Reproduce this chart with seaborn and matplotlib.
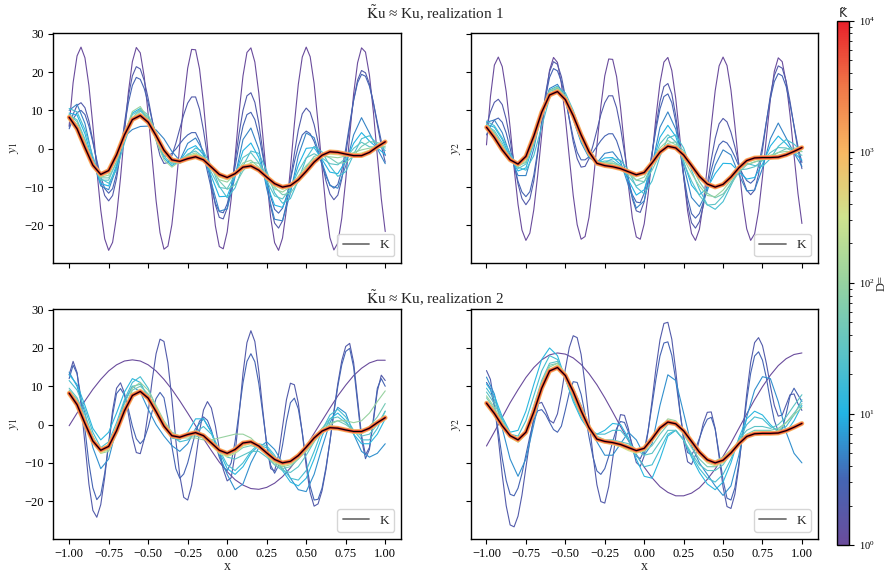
import numpy as np
import seaborn as sns
import matplotlib.pyplot as plt
from matplotlib.colors import LinearSegmentedColormap, LogNorm
from matplotlib.cm import ScalarMappable
from matplotlib.lines import Line2D

# sample grids (coarse for smooth curves, fine for fast oscillating ones)
x_coarse = np.linspace(-1, 1, 41)
x_fine = np.linspace(-1, 1, 81)

# target K (black line)
k_y1 = [8.2, 5.2, 0.3, -4.3, -6.7, -5.7, -1.6, 3.6, 7.6, 8.65, 6.9, 3.4, -0.4, -2.9, -3.3, -2.6, -2.1, -2.9, -4.8, -6.7,
        -7.5, -6.5, -4.8, -4.5, -5.6, -7.4, -9.1, -10.0, -9.6, -8.1, -5.9, -3.5, -1.7, -0.8, -0.95, -1.4, -1.8, -1.8, -0.95, 0.5, 1.8]
k_y2 = [5.6, 2.9, -0.3, -2.9, -4.0, -2.0, 3.3, 9.5, 14.0, 14.9, 12.8, 8.6, 3.6, -0.8, -3.8, -4.4, -4.7, -5.2, -6.0, -6.8,
        -6.2, -3.7, -0.9, 0.65, 0.2, -1.65, -4.4, -7.2, -9.2, -10.0, -9.3, -7.4, -5.0, -3.1, -2.4, -2.3, -2.3, -2.2, -1.6, -0.7, 0.3]

# D values of the approximations
dims_r1 = [1, 2, 3, 5, 10, 20, 30, 50, 100, 300]
dims_r2 = [1, 2, 3, 6, 12, 20, 30, 50, 100, 300]
dims_band = [1000, 3000, 10000]

# realization 1, y1
r1_y1_d1 = [6.0, 17.2, 24.2, 26.5, 23.7, 16.5, 6.1, -5.5, -16.0, -23.5, -26.5, -24.4, -17.7, -7.6, 4.0, 14.8, 22.7, 26.4, 25.0, 18.8,
            9.0, -2.4, -13.5, -21.9, -26.2, -25.4, -19.8, -10.4, 0.9, 12.2, 21.0, 25.9, 25.8, 20.8, 11.8, 0.6, -10.7, -20.1, -25.5, -26.1,
            -21.7, -13.2, -2.1, 9.3, 19.0, 25.1, 26.3, 22.6, 14.5, 3.6, -7.9, -17.9, -24.5, -26.5, -23.3, -15.8, -5.2, 6.4, 16.8, 23.9,
            26.5, 24.0, 17.0, 6.7, -4.9, -15.5, -23.2, -26.4, -24.6, -18.1, -8.1, 3.4, 14.3, 22.4, 26.3, 25.2, 19.2, 9.6, -1.9, -13.0, -21.6]
r1_y1_d2 = [5.7, 9.0, 11.3, 12.0, 10.7, 7.2, 2.1, -3.5, -8.5, -12.2, -13.6, -12.2, -7.8, -1.1, 6.6, 13.7, 19.0, 21.4, 20.8, 17.8,
            13.1, 7.6, 2.3, -1.8, -3.85, -3.6, -1.8, 1.4, 5.2, 8.9, 11.9, 13.5, 13.5, 10.3, 4.8, -2.0, -8.9, -14.6, -17.9, -18.3,
            -15.5, -10.2, -3.2, 3.9, 10.0, 13.8, 14.6, 12.1, 6.7, -0.6, -8.3, -15.0, -19.4, -20.7, -18.8, -14.4, -8.1, -1.3, 4.9, 9.1,
            10.6, 9.5, 6.3, 1.7, -3.6, -8.4, -11.8, -13.3, -12.1, -7.9, -1.6, 5.7, 12.7, 17.9, 20.4, 19.8, 16.9, 12.0, 6.3, 0.8, -3.5]
r1_y1_d3 = [5.2, 7.7, 9.4, 10.0, 8.9, 5.9, 1.7, -3.0, -7.3, -10.4, -11.6, -10.4, -6.5, -0.8, 5.8, 12.0, 16.5, 18.6, 18.1, 15.7,
            11.9, 7.4, 3.1, -0.2, -1.9, -1.9, -1.2, -0.1, 1.3, 2.6, 3.6, 4.2, 4.2, 2.0, -1.5, -6.0, -10.5, -14.2, -16.4, -16.7,
            -14.4, -10.2, -4.7, 1.0, 5.9, 8.9, 9.5, 7.6, 3.6, -1.8, -7.5, -12.5, -15.8, -16.8, -15.5, -12.5, -8.2, -3.5, 0.7, 3.6,
            4.6, 3.9, 1.9, -1.0, -4.2, -7.2, -9.4, -10.3, -9.3, -5.6, 0.0, 6.5, 12.6, 17.2, 19.4, 18.9, 16.3, 12.0, 6.9, 2.0, -1.8]
r1_y1_d5 = [10.0, 11.6, 6.6, -2.7, -9.7, -10.7, -4.9, 3.2, 5.0, 5.8, 5.9, 4.9, 2.6, -0.7, -3.1, 1.4, 2.8, -0.7, -8.9, -16.3,
            -15.7, -7.3, 2.4, 5.4, -0.1, -10.4, -18.4, -18.8, -11.6, -1.8, 4.1, 2.9, -3.6, -9.6, -10.3, -4.5, 3.6, 8.1, 4.1, 0.0, -3.9]
r1_y1_d10 = [9.3, 8.8, 3.9, -3.4, -9.1, -9.7, -4.3, 3.9, 9.3, 10.5, 7.6, 2.4, -2.4, -4.4, -3.2, -0.2, 0.8, -1.6, -7.2, -12.5,
             -12.4, -7.0, -0.5, 1.5, -2.3, -9.2, -14.7, -15.3, -10.8, -4.3, 0.1, 0.3, -2.8, -6.1, -6.5, -3.2, 1.4, 4.2, 2.0, 0.2, -1.5]
r1_y1_d20 = [10.5, 9.6, 5.0, -2.0, -7.8, -9.0, -5.5, 1.5, 7.5, 9.8, 8.4, 4.2, -0.8, -3.6, -3.8, -1.8, 0.2, -0.8, -4.5, -9.8,
             -12.8, -10.2, -4.5, -0.6, -1.2, -5.8, -11.5, -14.2, -13.0, -8.2, -2.5, 0.6, -0.8, -4.5, -7.2, -6.0, -1.5, 2.6, 3.4, 1.2, -0.5]
r1_y1_d30 = [8.9, 7.5, 2.5, -3.7, -8.2, -8.2, -3.3, 3.8, 8.9, 10.1, 7.4, 2.6, -1.9, -4.0, -3.2, -1.4, -0.6, -2.2, -6.2, -10.1,
             -10.4, -6.8, -2.3, -1.0, -3.7, -8.4, -12.3, -13.1, -10.3, -5.9, -2.4, -1.3, -2.4, -3.9, -4.2, -2.5, 0.1, 1.7, 0.5, 0.4, 0.2]
r1_y1_d50 = [9.0, 7.0, 2.2, -3.5, -7.6, -7.6, -3.6, 2.8, 8.0, 10.4, 8.8, 4.4, -0.2, -3.0, -3.8, -2.8, -1.6, -2.0, -4.6, -8.4,
             -10.6, -9.4, -5.8, -3.5, -3.8, -6.6, -10.0, -12.0, -11.6, -8.6, -4.8, -2.0, -1.4, -2.4, -3.8, -3.6, -1.8, 0.6, 1.9, 1.6, 1.0]
r1_y1_d100 = [8.5, 6.3, 1.4, -4.0, -7.4, -6.9, -2.4, 4.0, 9.7, 11.0, 7.8, 2.1, -2.9, -4.8, -3.3, -1.8, -1.1, -2.5, -5.4, -8.1,
              -8.7, -6.6, -3.7, -3.0, -4.8, -7.8, -10.5, -11.3, -9.9, -7.2, -4.4, -2.5, -2.0, -2.1, -2.35, -1.9, -1.0, -0.3, 0.15, 0.4, 0.6]
r1_y1_d300 = [8.4, 5.8, 0.9, -4.1, -7.1, -6.4, -2.1, 3.7, 8.2, 9.3, 7.1, 3.0, -1.1, -3.4, -3.3, -2.0, -1.4, -2.6, -5.1, -7.4,
              -8.1, -6.6, -4.3, -3.8, -5.2, -7.6, -9.7, -10.6, -9.7, -7.7, -5.2, -3.1, -1.8, -1.4, -1.6, -1.6, -1.4, -1.1, -0.4, 0.5, 1.2]

# realization 1, y2
r1_y2_d1 = [1.0, 13.5, 21.8, 23.9, 21.4, 14.9, 5.5, -5.0, -14.5, -21.2, -23.9, -22.0, -15.9, -6.8, 3.6, 13.3, 20.5, 23.8, 22.5, 16.9,
            8.1, -2.2, -12.2, -19.8, -23.6, -22.9, -17.9, -9.4, 0.8, 11.0, 19.0, 23.4, 23.3, 18.8, 10.7, 0.5, -9.7, -18.1, -23.0, -23.6,
            -19.6, -11.9, -1.9, 8.4, 17.1, 22.6, 23.8, 20.4, 13.1, 3.3, -7.1, -16.2, -22.1, -23.9, -21.0, -14.2, -4.7, 5.8, 15.1, 21.6,
            23.9, 21.7, 15.3, 6.0, -4.4, -14.0, -20.9, -23.9, -22.2, -16.3, -7.3, 3.0, 12.9, 20.2, 23.7, 22.7, 17.3, 8.7, -1.7, -11.7, -19.5]
r1_y2_d2 = [5.9, 9.6, 12.1, 12.9, 11.5, 7.7, 2.3, -3.7, -9.2, -13.0, -14.6, -13.1, -8.4, -1.2, 6.9, 14.5, 20.1, 22.7, 22.0, 18.8,
            13.6, 7.6, 1.8, -2.6, -4.8, -4.6, -2.6, 0.8, 4.8, 8.9, 12.0, 13.8, 13.8, 10.7, 5.5, -1.0, -7.6, -13.1, -16.2, -16.6,
            -13.8, -8.3, -1.2, 6.1, 12.3, 16.2, 17.0, 14.3, 8.6, 0.8, -7.4, -14.6, -19.3, -20.7, -19.0, -14.9, -9.2, -2.9, 2.7, 6.5,
            7.9, 7.0, 4.3, 0.5, -3.9, -7.9, -10.8, -12.0, -10.8, -6.7, -0.3, 7.0, 13.9, 19.1, 21.6, 21.0, 17.6, 12.2, 5.8, -0.4, -5.2]
r1_y2_d3 = [3.6, 5.9, 7.5, 8.0, 6.9, 4.1, 0.1, -4.4, -8.5, -11.3, -12.5, -11.2, -6.9, -0.5, 6.8, 13.6, 18.6, 20.9, 20.3, 17.5,
            13.1, 7.9, 2.9, -0.9, -2.9, -2.9, -2.1, -0.9, 0.6, 2.1, 3.3, 3.9, 3.9, 2.1, -1.0, -4.9, -8.8, -12.0, -13.9, -14.1,
            -11.6, -7.0, -1.0, 5.1, 10.4, 13.6, 14.3, 12.0, 7.0, 0.4, -6.7, -12.8, -16.9, -18.1, -16.9, -14.0, -10.0, -5.6, -1.7, 1.0,
            2.0, 1.5, 0.0, -2.1, -4.5, -6.7, -8.3, -9.0, -8.0, -4.5, 0.9, 7.2, 13.1, 17.5, 19.6, 19.0, 16.2, 11.5, 6.0, 0.6, -3.6]
r1_y2_d5 = [6.9, 7.5, 4.2, -1.7, -7.0, -7.0, 0.0, 9.8, 15.7, 16.8, 13.5, 7.6, 1.6, -2.3, -3.7, -1.2, -0.8, -3.4, -9.6, -15.5,
            -13.6, -4.4, 5.6, 9.6, 5.1, -4.35, -12.7, -15.1, -11.0, -4.3, -0.3, -1.6, -6.7, -11.0, -10.8, -5.1, 2.6, 6.7, 2.8, -1.1, -4.6]
r1_y2_d10 = [6.4, 5.6, 2.4, -2.2, -5.8, -5.0, 1.3, 9.7, 15.3, 16.3, 13.3, 7.8, 2.1, -1.9, -3.7, -2.4, -2.3, -4.1, -8.2, -12.1,
             -10.7, -4.1, 3.0, 6.1, 3.2, -3.3, -9.5, -12.0, -10.3, -6.5, -3.8, -3.9, -6.0, -7.9, -7.5, -4.0, 0.7, 3.3, 1.3, -1.0, -3.0]
r1_y2_d20 = [7.2, 6.0, 2.8, -1.2, -4.8, -5.6, -1.8, 5.8, 13.2, 16.0, 14.6, 10.0, 4.4, -0.2, -3.0, -3.6, -2.6, -3.0, -5.6, -10.0,
             -11.8, -8.4, -2.0, 2.8, 3.6, 0.2, -5.6, -10.6, -14.6, -15.8, -13.8, -9.6, -5.4, -3.8, -4.4, -4.6, -2.6, 0.6, 2.4, 1.2, -0.8]
r1_y2_d30 = [6.1, 4.7, 1.5, -2.4, -5.2, -4.0, 2.0, 9.7, 14.9, 15.8, 13.1, 8.1, 2.6, -1.5, -3.7, -3.2, -3.2, -4.5, -7.2, -9.7,
             -8.7, -3.9, 1.3, 3.65, 1.8, -3.65, -8.4, -12.2, -14.7, -14.5, -12.3, -8.9, -5.5, -5.3, -4.7, -3.1, -1.0, 0.3, 0.2, -0.9, -1.7]
r1_y2_d50 = [6.5, 4.2, 0.8, -2.4, -4.4, -3.6, 1.2, 8.2, 14.2, 15.9, 13.9, 9.4, 4.0, -0.6, -3.4, -4.0, -3.8, -4.4, -6.0, -8.2,
             -8.6, -5.6, -1.4, 1.4, 1.8, -0.6, -4.6, -8.6, -11.6, -12.8, -11.8, -9.2, -6.2, -4.2, -3.4, -3.0, -2.2, -1.0, 0.0, 0.2, -0.2]
r1_y2_d100 = [5.9, 4.0, 0.8, -2.6, -4.7, -3.2, 2.5, 9.7, 15.1, 16.1, 13.2, 7.9, 2.3, -1.8, -3.8, -3.6, -3.7, -4.8, -6.6, -8.2,
              -7.4, -3.8, 0.2, 2.15, 1.0, -2.65, -6.4, -9.7, -12.2, -12.5, -10.8, -8.2, -5.2, -4.15, -3.5, -2.7, -1.7, -1.0, -0.7, -0.8, -0.7]
r1_y2_d300 = [5.7, 3.3, 0.1, -2.8, -4.3, -2.5, 3.0, 9.6, 14.4, 15.4, 13.0, 8.3, 3.1, -1.2, -3.8, -4.0, -4.2, -5.0, -6.2, -7.3,
              -6.6, -3.7, -0.5, 1.15, 0.5, -1.8, -4.9, -7.8, -9.5, -10.3, -9.4, -7.2, -5.1, -3.5, -2.9, -2.5, -2.0, -1.7, -1.2, -0.7, -0.1]

# realization 2, y1
r2_y1_d1 = [-0.3, 3.0, 6.2, 9.2, 11.8, 14.0, 15.6, 16.6, 16.9, 16.6, 15.6, 14.0, 11.8, 9.2, 6.2, 3.0, -0.3, -3.7, -6.8, -9.8,
            -12.3, -14.4, -15.8, -16.7, -16.9, -16.4, -15.3, -13.6, -11.3, -8.6, -5.6, -2.3, 1.0, 4.3, 7.5, 10.3, 12.8, 14.7, 16.1, 16.8, 16.8]
r2_y1_d2 = [13.0, 16.5, 13.6, 5.2, -5.0, -15.5, -22.4, -24.2, -20.9, -13.8, -4.8, 3.7, 9.5, 10.9, 8.2, 2.7, -3.25, -7.3, -7.6, -3.8,
            3.2, 11.5, 18.5, 22.3, 21.7, 16.1, 6.7, -4.1, -13.3, -19.0, -19.7, -15.9, -9.3, -1.8, 3.8, 6.0, 4.3, -0.3, -6.3, -11.7,
            -14.7, -13.9, -7.6, 2.5, 13.4, 21.4, 24.5, 21.7, 13.9, 3.9, -5.5, -11.5, -12.1, -7.9, -0.65, 6.5, 10.8, 10.4, 5.6, -2.2,
            -10.9, -17.8, -21.3, -20.7, -17.3, -11.7, -4.4, 3.5, 10.7, 16.7, 20.4, 21.2, 16.2, 6.65, -2.8, -7.9, -6.0, 0.9, 8.7, 12.9, 11.5]
r2_y1_d3 = [12.0, 15.5, 13.3, 6.9, -1.2, -10.1, -16.5, -19.6, -18.3, -12.7, -5.1, 2.5, 8.1, 9.4, 7.7, 4.0, -0.4, -3.7, -5.0, -3.8,
            -0.7, 3.4, 6.8, 8.4, 7.0, 1.5, -5.7, -11.5, -14.0, -12.9, -10.0, -6.0, -2.0, 0.9, 2.0, 1.1, -1.5, -5.0, -8.5, -11.1,
            -12.0, -10.0, -4.4, 3.25, 10.9, 16.5, 18.5, 16.4, 10.7, 2.9, -4.9, -10.6, -12.7, -10.7, -5.4, 0.9, 5.7, 6.9, 4.1, -2.0,
            -9.5, -16.1, -19.7, -19.5, -16.6, -11.2, -4.4, 3.0, 10.0, 15.6, 19.1, 19.9, 15.0, 5.5, -3.9, -8.9, -6.5, 1.5, 9.5, 12.0, 10.0]
r2_y1_d6 = [13.7, 10, 3, -6, -11.5, -9, -1, 6, 10, 8.5, 4, 0, -3, -5.5, -7, -5, -1, 1.5, -2, -8,
            -13, -17, -15.5, -10, -6, -4.5, -6.5, -10, -14, -17, -17.5, -13, -6, 0.5, 4.5, 3, -2.5, -7, -8.5, -7.5, -5]
r2_y1_d12 = [13, 10.5, 5, -1, -4, -2, 3, 8.5, 12, 11, 7, 2.5, -1, -3.5, -4, -2, 1.5, 1.5, -2, -7,
             -11.5, -13, -11, -7.5, -5.5, -6, -8.5, -12, -15, -16, -14, -9, -3, 1.5, 3, 1, -2.5, -5, -5, -2.5, 1.5]
r2_y1_d20 = [11.5, 9.0, 4.0, -2.0, -6.0, -4.5, 0.5, 6.5, 11.0, 12.5, 9.5, 4.5, 0.0, -3.0, -4.5, -4.0, -2.0, -0.5, -2.5, -6.5,
             -10.5, -12.0, -10.0, -7.0, -5.0, -5.5, -8.0, -11.5, -14.0, -14.5, -12.0, -7.0, -1.5, 2.5, 4.0, 2.0, -1.5, -4.0, -4.0, -1.0, 3.5]
r2_y1_d30 = [9.5, 7, 2.5, -3, -7, -5.5, -0.5, 5.5, 10, 10.5, 7.5, 3.5, 0, -2.5, -3.5, -3, -2, -2.5, -4, -6.5,
             -8.5, -9, -8, -7, -7, -8.5, -10.5, -12, -12.5, -11, -8, -4.5, -1, 1.5, 2, 0.5, -1.5, -3, -2.5, 0, 3.5]
r2_y1_d50 = [9.0, 6.5, 1.5, -3.5, -7.0, -6.5, -2.0, 4.0, 9.0, 10.0, 8.0, 4.0, 0.5, -2.0, -3.0, -3.0, -3.0, -3.5, -5.0, -7.0,
             -8.0, -7.5, -6.0, -5.5, -6.0, -8.0, -10.5, -11.5, -11.0, -9.0, -6.5, -3.5, -1.0, 0.5, 1.0, 0.0, -1.5, -2.0, -0.5, 2.0, 5.5]
r2_y1_d100 = [8.5, 5.8, 1.0, -4, -7.5, -7, -2.5, 3.5, 9.5, 11, 9, 5, 1, -2, -3.5, -3.5, -3.5, -4, -4, -3.5,
              -3, -2.5, -2.5, -3.5, -5.5, -8, -10, -11, -10.5, -9, -7, -4.5, -2, 0, 1, 1, 0.5, 1, 3, 6, 8.8]
r2_y1_d300 = [8.0, 5.5, 0.8, -4.6, -7.5, -6.5, -2.0, 3.8, 8.2, 9.2, 7.3, 3.3, -0.8, -3.2, -3.5, -2.8, -2.5, -3.5, -5.5, -7.5,
              -8.4, -7.5, -5.6, -5.0, -6.0, -8.0, -9.8, -10.7, -10.3, -8.6, -6.0, -3.2, -1.2, -0.3, -0.6, -1.4, -2.2, -2.4, -1.3, 0.6, 2.3]

# realization 2, y2
r2_y2_d1 = [-5.6, -1.9, 1.9, 5.7, 9.1, 12.3, 14.9, 16.9, 18.2, 18.7, 18.4, 17.4, 15.7, 13.3, 10.4, 7.0, 3.3, -0.5, -4.2, -7.8,
            -11.1, -13.9, -16.2, -17.7, -18.6, -18.6, -17.9, -16.5, -14.3, -11.6, -8.3, -4.8, -1.0, 2.8, 6.5, 9.9, 12.9, 15.4, 17.2, 18.3, 18.7]
r2_y2_d2 = [14.1, 11.8, 5.5, -3.6, -13.2, -21.2, -26.2, -26.7, -23.9, -18.4, -11.2, -4.2, 1.9, 5.4, 5.8, 3.7, 1.1, 0.4, 2.8, 8.1,
            14.5, 20.1, 23.2, 22.7, 18.3, 10.5, 1.3, -7.9, -15.7, -20.1, -20.5, -16.2, -9.0, -1.7, 2.6, 2.4, -1.1, -6.0, -9.9, -10.9,
            -8.2, -1.7, 6.3, 14.9, 22.1, 26.4, 26.7, 22.3, 14.1, 4.3, -4.3, -9.7, -10.4, -8.0, -3.9, 0.4, 3.2, 3.3, -1.0, -8.5,
            -16.3, -21.4, -21.9, -18.2, -11.0, -1.7, 8.0, 16.2, 21.4, 22.7, 20.6, 15.9, 10.1, 5.0, 2.2, 2.5, 5.15, 7.8, 8.0, 5.4, 3.7]
r2_y2_d3 = [11.0, 9.4, 4.7, -1.8, -8.8, -14.6, -18.2, -18.6, -16.6, -12.8, -7.9, -3.1, 1.15, 3.6, 3.9, 2.6, 0.6, -1.3, -2.0, -0.4,
            3.8, 8.3, 11.2, 11.0, 7.9, 2.8, -3.2, -8.4, -12.1, -13.0, -11.5, -8.3, -4.5, -1.0, 0.8, 0.55, -1.95, -5.4, -8.2, -8.9,
            -6.7, -1.5, 5.1, 12.0, 17.9, 21.3, 21.6, 18.1, 11.6, 3.8, -3.0, -7.3, -7.85, -6.3, -3.6, -0.7, 1.4, 1.9, -1.2, -7.6,
            -14.5, -19.2, -19.7, -16.5, -10.2, -2.2, 6.3, 13.4, 17.9, 19.0, 16.8, 12.1, 6.2, 1.1, -1.8, -1.2, 2.75, 7.5, 9.5, 7.75, 6.0]
r2_y2_d6 = [12.4, 8, -1, -9, -13.5, -9, 0, 9, 14, 15, 13, 9.5, 5, 0, -4.5, -8, -8, -5, -2, -4,
            -8, -5, 5, 13, 11.5, 3, -5.5, -10, -13, -16, -18.5, -16, -8, 2, 9, 12.5, 12, 6, -2, -7.5, -10]
r2_y2_d12 = [10.6, 7.5, 2, -2, -1.5, 3.5, 10.5, 17, 20, 18, 12, 6, 1.5, -1.5, -2.5, -1.5, 0.3, 0, -3.5, -9,
             -13.5, -14, -9, -3, -1.5, -4, -8.5, -12.5, -15.5, -17, -15, -10, -3.5, 1.5, 3.5, 2.5, 0, -2, -2, 1, 5]
r2_y2_d20 = [9.5, 6.5, 1.5, -2.5, -3.0, 1.0, 7.5, 14.0, 18.0, 17.0, 12.0, 6.5, 2.0, -1.0, -2.5, -2.5, -1.5, -1.5, -4.0, -8.0,
             -11.0, -10.5, -6.5, -2.5, -1.5, -4.0, -8.0, -11.5, -14.0, -15.0, -13.0, -9.0, -4.0, 0.0, 2.0, 1.5, -0.5, -1.5, -0.5, 2.5, 6.5]
r2_y2_d30 = [8.5, 5.5, 1.0, -3, -4.5, -1.5, 5, 11.5, 16, 16.5, 12.5, 7, 2.5, -1, -3, -4, -4, -4.5, -5, -6.5,
             -8, -7.5, -4.5, -1.5, -1.5, -4, -7.5, -10.5, -12, -12, -10.5, -7.5, -4, -1.5, -0.5, -0.5, -1, 0, 2, 5, 7.8]
r2_y2_d50 = [7.0, 4.0, 0.0, -3.0, -4.0, -2.0, 4.0, 11.0, 15.5, 16.0, 13.0, 8.0, 3.0, -1.0, -3.5, -4.5, -4.5, -5.0, -5.5, -6.5,
             -7.0, -5.5, -2.5, 0.0, 0.0, -2.5, -6.0, -9.0, -11.0, -11.0, -9.5, -7.0, -4.5, -2.5, -1.5, -1.5, -1.5, -1.0, 0.5, 3.0, 5.5]
r2_y2_d100 = [7.5, 4.5, 0.5, -3, -4.5, -2.5, 3.5, 10, 15, 16, 13.5, 9, 3.5, -1, -3.5, -4.5, -5, -5.5, -6, -6.5,
              -6, -4, -1, 1.5, 1, -1.5, -5, -8, -9.5, -9.5, -8.5, -6.5, -4.5, -3, -2.5, -2.5, -2.5, -1.5, 0.5, 2.5, 4.5]
r2_y2_d300 = [5.2, 2.4, -0.8, -3.4, -4.6, -2.6, 2.8, 9.2, 14.2, 15.6, 13.5, 8.9, 3.5, -1.2, -4.0, -4.8, -5.2, -5.8, -6.8, -7.5,
              -6.8, -4.0, -0.8, 1.0, 0.6, -1.5, -4.6, -7.8, -10.0, -10.8, -10.0, -7.9, -5.2, -3.0, -2.0, -1.8, -2.0, -2.4, -2.0, -1.0, 0.2]

titles = [r"$\tilde{\mathrm{K}}\mathrm{u}$ ≈ Ku, realization 1",
          r"$\tilde{\mathrm{K}}\mathrm{u}$ ≈ Ku, realization 2"]

sns.set_style("ticks", {"axes.edgecolor": "black", "xtick.color": "black", "ytick.color": "black"})
plt.rcParams["font.family"] = ["Liberation Serif", "DejaVu Serif"]
plt.rcParams["mathtext.fontset"] = "stix"
plt.rcParams["axes.linewidth"] = 1.0

cmap = LinearSegmentedColormap.from_list("dspec", [
    (0.0, "#6a4c9c"), (0.125, "#4466b4"), (0.25, "#22b4e4"), (0.375, "#5fc4c4"),
    (0.5, "#96d2a0"), (0.625, "#cfe38e"), (0.75, "#f8b862"), (0.875, "#f07848"), (1.0, "#e8202a")])
norm = LogNorm(1, 1e4)

panels = [
    (r"$y_1$", k_y1, dims_r1, [r1_y1_d1, r1_y1_d2, r1_y1_d3, r1_y1_d5, r1_y1_d10, r1_y1_d20, r1_y1_d30, r1_y1_d50, r1_y1_d100, r1_y1_d300]),
    (r"$y_2$", k_y2, dims_r1, [r1_y2_d1, r1_y2_d2, r1_y2_d3, r1_y2_d5, r1_y2_d10, r1_y2_d20, r1_y2_d30, r1_y2_d50, r1_y2_d100, r1_y2_d300]),
    (r"$y_1$", k_y1, dims_r2, [r2_y1_d1, r2_y1_d2, r2_y1_d3, r2_y1_d6, r2_y1_d12, r2_y1_d20, r2_y1_d30, r2_y1_d50, r2_y1_d100, r2_y1_d300]),
    (r"$y_2$", k_y2, dims_r2, [r2_y2_d1, r2_y2_d2, r2_y2_d3, r2_y2_d6, r2_y2_d12, r2_y2_d20, r2_y2_d30, r2_y2_d50, r2_y2_d100, r2_y2_d300]),
]

fig = plt.figure(figsize=(8.92, 5.75), dpi=100)
boxes = [[0.0598, 0.5426, 0.3898, 0.3995], [0.5277, 0.5426, 0.389, 0.3995],
         [0.0598, 0.0631, 0.3898, 0.399], [0.5277, 0.0631, 0.389, 0.399]]
axes = []
for box in boxes:
    share = axes[0] if axes else None
    axes.append(fig.add_axes(box, sharex=share, sharey=share))

for n, (ax, (ylab, k, dims, curves)) in enumerate(zip(axes, panels)):
    for d, ys in zip(dims, curves):
        xs = x_fine if len(ys) == 81 else x_coarse
        sns.lineplot(x=xs, y=ys, color=cmap(norm(d)), lw=0.8, ax=ax)
    # high D approximations lie on top of K
    for d, lw in zip(dims_band, [3.4, 2.3, 1.3]):
        sns.lineplot(x=x_coarse, y=k, color=cmap(norm(d)), lw=lw, ax=ax)
    sns.lineplot(x=x_coarse, y=k, color="black", lw=0.8, ax=ax)

    ax.set_xlim(-1.1, 1.1)
    ax.set_ylim(-29.8, 30.1)
    ax.set_xticks([-1, -0.75, -0.5, -0.25, 0, 0.25, 0.5, 0.75, 1])
    ax.set_yticks([-20, -10, 0, 10, 20, 30])
    ax.tick_params(labelsize=9, length=3.5, width=0.8)
    ax.set_ylabel(ylab, fontsize=10, labelpad=2)
    if n < 2:
        ax.tick_params(labelbottom=False)
        ax.set_xlabel("")
    else:
        ax.set_xlabel("x", fontsize=10, labelpad=0)
    if n % 2 == 1:
        ax.tick_params(labelleft=False)
    ax.legend([Line2D([], [], color="0.45", lw=1.3)], ["K"], loc="lower right", fontsize=9.5)

fig.text(0.488, 0.976, titles[0], ha="center", va="center", fontsize=11)
fig.text(0.488, 0.482, titles[1], ha="center", va="center", fontsize=11)

cax = fig.add_axes([0.9389, 0.0522, 0.0129, 0.9118])
cb = fig.colorbar(ScalarMappable(norm=norm, cmap=cmap), cax=cax)
cb.ax.tick_params(labelsize=7.5)
cb.set_label("D=", fontsize=9, labelpad=1)
cax.set_title("K\u0303", fontsize=9, family="DejaVu Sans", pad=3)

fig.savefig("out.png", dpi=100)
